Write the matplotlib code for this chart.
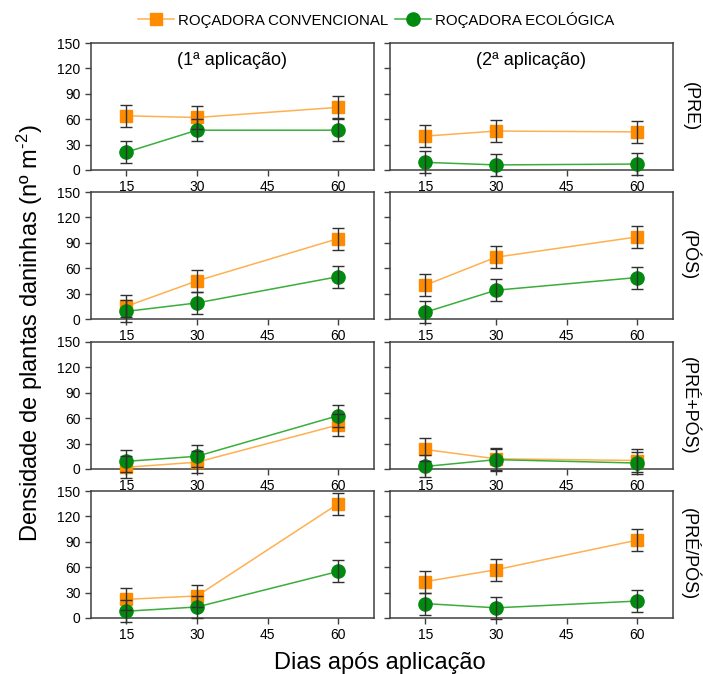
import matplotlib
matplotlib.use("Agg")
import matplotlib.pyplot as plt
from matplotlib.lines import Line2D

plt.rcParams["font.family"] = ["Liberation Sans", "DejaVu Sans"]
plt.rcParams["mathtext.fontset"] = "custom"
plt.rcParams["mathtext.rm"] = "Liberation Sans"
plt.rcParams["mathtext.it"] = "Liberation Sans"

days = [15, 30, 60]
rows = ["(PRE)", "(PÓS)", "(PRÉ+PÓS)", "(PRÉ/PÓS)"]
cols = ["(1ª aplicação)", "(2ª aplicação)"]

# convencional / ecologica, one list per (row, column)
conv = [
    [[64, 62, 74], [40, 46, 45]],
    [[15, 45, 95], [40, 73, 97]],
    [[2, 8, 52], [23, 12, 10]],
    [[22, 26, 135], [43, 57, 92]],
]
eco = [
    [[21, 47, 47], [9, 6, 7]],
    [[9, 19, 50], [8, 34, 49]],
    [[9, 15, 63], [3, 11, 7]],
    [[8, 13, 55], [17, 12, 20]],
]
err = 13  # same bar length on every point

C_MARK = "#FF8C00"
C_LINE = "#FFB050"
G_MARK = "#008A0E"
G_LINE = "#3AAE3A"
EDGE = "#404040"

fig = plt.figure(figsize=(7.03, 6.74), dpi=100)

lefts = [0.1294, 0.5548]
width = 0.402
bottoms = [0.7478, 0.5267, 0.3042, 0.0831]
height = 0.1884

for r in range(4):
    for c in range(2):
        ax = fig.add_axes([lefts[c], bottoms[r], width, height])
        ax.plot(days, conv[r][c], color=C_LINE, lw=1.1, zorder=2)
        ax.plot(days, eco[r][c], color=G_LINE, lw=1.1, zorder=2)
        ax.plot(days, conv[r][c], ls="none", marker="s", ms=9,
                mfc=C_MARK, mec=C_MARK, zorder=3, clip_on=False)
        ax.plot(days, eco[r][c], ls="none", marker="o", ms=9.5,
                mfc=G_MARK, mec=G_MARK, zorder=3, clip_on=False)
        for vals in (conv[r][c], eco[r][c]):
            ax.errorbar(days, vals, yerr=err, fmt="none", ecolor="#303030",
                        elinewidth=1, capsize=4, capthick=1, zorder=4,
                        clip_on=False)
        ax.set_xlim(7.5, 67.5)
        ax.set_ylim(0, 150)
        ax.set_xticks([15, 30, 45, 60])
        ax.set_yticks([0, 30, 60, 90, 120, 150])
        ax.tick_params(colors=EDGE, labelcolor="black", labelsize=10,
                       length=4, width=1)
        if c == 1:
            ax.set_yticklabels([])
        for s in ax.spines.values():
            s.set_color(EDGE)
            s.set_linewidth(1.1)
        if r == 0:
            ax.text(0.5, 0.86, cols[c], transform=ax.transAxes, ha="center",
                    va="center", fontsize=13)
        if c == 1:
            ax.text(1.063, 0.5, rows[r], transform=ax.transAxes, ha="center",
                    va="center", rotation=270, fontsize=13)

handles = [
    Line2D([], [], color=C_LINE, lw=1.1, marker="s", ms=9,
           mfc=C_MARK, mec=C_MARK),
    Line2D([], [], color=G_LINE, lw=1.1, marker="o", ms=9.5,
           mfc=G_MARK, mec=G_MARK),
]
fig.legend(handles, ["ROÇADORA CONVENCIONAL", "ROÇADORA ECOLÓGICA"],
           loc="center", bbox_to_anchor=(0.535, 0.971), ncol=2, frameon=False,
           fontsize=10.8, handlelength=2.4, handletextpad=0.3,
           columnspacing=0.4)

fig.text(0.043, 0.505, r"Densidade de plantas daninhas (nº m$^{\text{-2}}$)",
         rotation=90, ha="center", va="center", fontsize=17)
fig.text(0.54, 0.017, "Dias após aplicação", ha="center", va="center",
         fontsize=17)

fig.savefig("out.png", dpi=100)
